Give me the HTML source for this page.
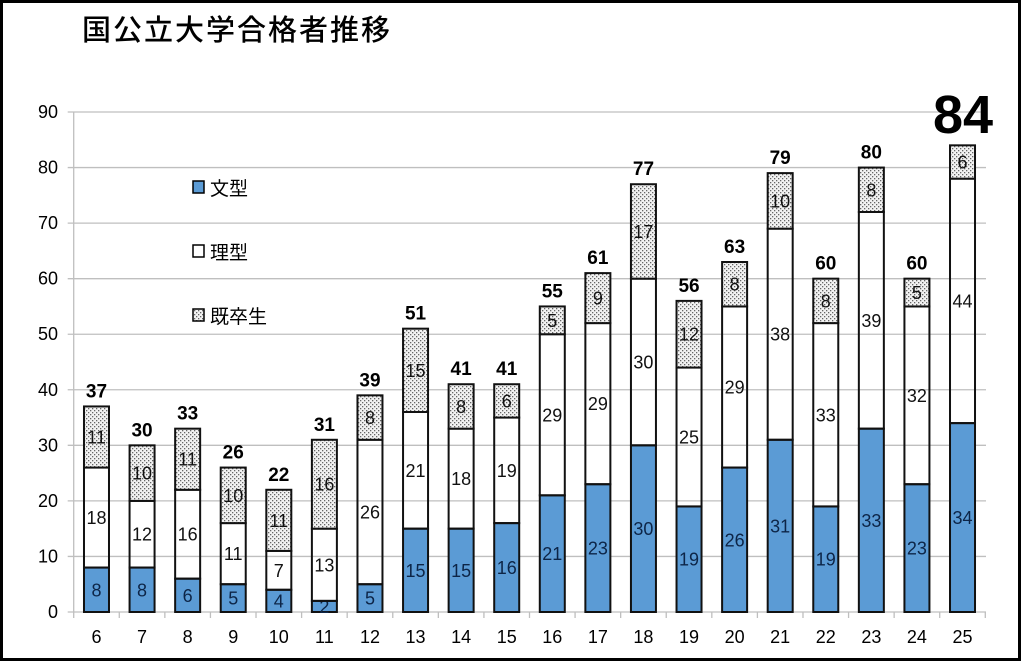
<!DOCTYPE html>
<html><head><meta charset="utf-8"><style>
html,body{margin:0;padding:0;background:#fff;}
svg{display:block;}
</style></head><body>
<svg id="s" width="1024" height="663" xmlns="http://www.w3.org/2000/svg" font-family="'Liberation Sans','Noto Sans CJK JP',sans-serif">
<defs>
<pattern id="dots" width="4" height="4" patternUnits="userSpaceOnUse">
<rect width="4" height="4" fill="#f2f2f2"/>
<rect x="0" y="0" width="1.3" height="1.3" fill="#666"/>
<rect x="2" y="2" width="1.3" height="1.3" fill="#666"/>
</pattern>
</defs>
<rect x="1.5" y="1.5" width="1018" height="658" fill="#fff" stroke="#000" stroke-width="3"/>
<text x="82" y="40" font-size="29" fill="#000" font-family="'Noto Sans CJK JP',sans-serif" font-weight="500" letter-spacing="2">国公立大学合格者推移</text>
<g id="g"></g>
<rect x="193" y="181" width="11" height="12" fill="#5b9bd5" stroke="#000" stroke-width="1.5"/>
<text x="210" y="195" font-size="19" font-family="'Noto Sans CJK JP',sans-serif">文型</text>
<rect x="193" y="245" width="11" height="12" fill="#fff" stroke="#000" stroke-width="1.5"/>
<text x="210" y="259" font-size="19" font-family="'Noto Sans CJK JP',sans-serif">理型</text>
<rect x="193" y="309" width="11" height="12" fill="url(#dots)" stroke="#000" stroke-width="1.5"/>
<text x="210" y="323" font-size="19" font-family="'Noto Sans CJK JP',sans-serif">既卒生</text>
</svg>
<script>
var g=document.getElementById('g'),h='';
var y0=612,k=500/90,L=73.7,R=986,sp=45.58;
for(var i=0;i<=9;i++){var y=y0-i*10*k;h+='<line x1="'+(L-6)+'" x2="'+R+'" y1="'+y+'" y2="'+y+'" stroke="#bfbfbf" stroke-width="1.3"/>';
h+='<text x="58" y="'+(y+6)+'" font-size="18" text-anchor="end">'+(i*10)+'</text>';}
h+='<line x1="'+L+'" x2="'+L+'" y1="112" y2="'+y0+'" stroke="#bfbfbf" stroke-width="1.3"/>';
var B=[8,8,6,5,4,2,5,15,15,16,21,23,30,19,26,31,19,33,23,34],
Ri=[18,12,16,11,7,13,26,21,18,19,29,29,30,25,29,38,33,39,32,44],
K=[11,10,11,10,11,16,8,15,8,6,5,9,17,12,8,10,8,8,5,6];
for(var i=0;i<=20;i++){var x=L+i*sp;h+='<line x1="'+x+'" x2="'+x+'" y1="'+y0+'" y2="'+(y0+6)+'" stroke="#bfbfbf" stroke-width="1.3"/>';}
for(var i=0;i<20;i++){
 var c=L+sp/2+i*sp,x=c-12.5,w=25;
 var segs=[[B[i],'#5b9bd5','#0d2547'],[Ri[i],'none','#111'],[K[i],'url(#dots)','#111']];
 var base=0;
 for(var j=0;j<3;j++){var v=segs[j][0],yt=y0-(base+v)*k,hh=v*k;
  h+='<rect x="'+x+'" y="'+yt+'" width="'+w+'" height="'+hh+'" fill="'+segs[j][1]+'" stroke="#111" stroke-width="2"/>';
  h+='<text x="'+c+'" y="'+(yt+hh/2+6.5)+'" font-size="18" text-anchor="middle" fill="'+segs[j][2]+'">'+v+'</text>';
  base+=v;}
 var tot=base,yt=y0-tot*k;
 if(i==19)h+='<text x="963" y="133" font-size="54" font-weight="bold" text-anchor="middle">'+tot+'</text>';
 else h+='<text x="'+c+'" y="'+(yt-9)+'" font-size="19" font-weight="bold" text-anchor="middle">'+tot+'</text>';
 h+='<text x="'+c+'" y="643" font-size="18" text-anchor="middle">'+(i+6)+'</text>';
}
g.innerHTML=h;
</script>
</body></html>
